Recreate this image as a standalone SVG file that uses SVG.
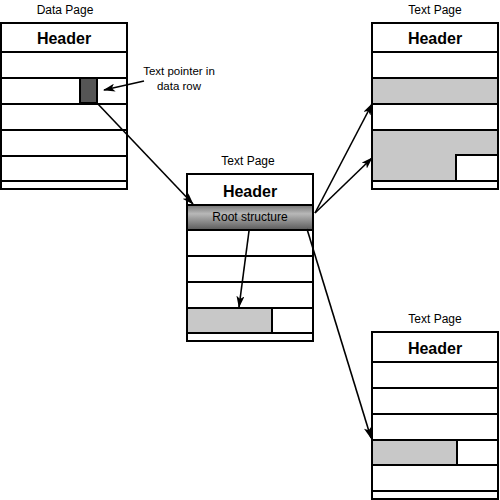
<svg xmlns="http://www.w3.org/2000/svg" width="500" height="500" viewBox="0 0 500 500">
<style>
text{font-family:"Liberation Sans",Arial,sans-serif;fill:#000}
.lbl{font-size:12px;text-anchor:middle}
.note{font-size:11.5px;text-anchor:middle}
.hdr{font-size:16px;font-weight:bold;text-anchor:middle}
.box{fill:#fff;stroke:#000;stroke-width:2}
.ln{stroke:#000;stroke-width:2;fill:none}
.gray{fill:#c8c8c8;stroke:#000;stroke-width:2}
.arr{stroke:#000;stroke-width:1.6;fill:none;marker-end:url(#ah)}
</style>
<defs>
<marker id="ah" viewBox="0 0 12 8" refX="11" refY="4" markerWidth="12" markerHeight="8" markerUnits="userSpaceOnUse" orient="auto">
<path d="M0,0 L12,4 L0,8 L3,4 Z" fill="#000"/>
</marker>
<linearGradient id="rg" x1="0" y1="0" x2="0" y2="1">
<stop offset="0" stop-color="#747474"/>
<stop offset="0.35" stop-color="#b8b8b8"/>
<stop offset="1" stop-color="#5a5a5a"/>
</linearGradient>
</defs>

<g id="data-page">
<text class="lbl" x="65" y="14">Data Page</text>
<rect class="box" x="1" y="23" width="126" height="166"/>
<text class="hdr" x="64" y="44">Header</text>
<path class="ln" d="M1,52H127M1,78H127M1,104H127M1,130H127M1,156H127M1,181H127"/>
<rect x="80" y="78" width="17" height="25" fill="#555" stroke="#000" stroke-width="2"/>
</g>

<g id="note">
<text class="note" x="179" y="75">Text pointer in</text>
<text class="note" x="179" y="90">data row</text>
</g>

<g id="text-page-mid">
<text class="lbl" x="248" y="165">Text Page</text>
<rect class="box" x="187" y="174" width="126" height="167"/>
<text class="hdr" x="250" y="197">Header</text>
<rect x="187" y="205" width="126" height="25" fill="url(#rg)" stroke="#000" stroke-width="2"/>
<text class="lbl" x="250" y="221">Root structure</text>
<path class="ln" d="M187,256H313M187,282H313M187,308H313M187,333H313"/>
<rect class="gray" x="187" y="308" width="85" height="25"/>
</g>

<g id="text-page-top">
<text class="lbl" x="435" y="14">Text Page</text>
<rect class="box" x="372" y="23" width="126" height="166"/>
<text class="hdr" x="435" y="44">Header</text>
<rect class="gray" x="372" y="78" width="126" height="26"/>
<rect class="gray" x="372" y="130" width="126" height="51"/>
<rect class="box" x="456" y="155" width="42" height="26"/>
<path class="ln" d="M372,52H498M372,181H498"/>
</g>

<g id="text-page-bottom">
<text class="lbl" x="435" y="323">Text Page</text>
<rect class="box" x="372" y="332" width="126" height="167"/>
<text class="hdr" x="435" y="354">Header</text>
<path class="ln" d="M372,362H498M372,388H498M372,414H498M372,440H498M372,465H498M372,491H498"/>
<rect class="gray" x="372" y="440" width="85" height="25"/>
</g>

<g id="connectors">
<line class="arr" x1="144" y1="81" x2="104" y2="90"/>
<line class="arr" x1="97" y1="103" x2="193" y2="204"/>
<line class="arr" x1="249" y1="231" x2="239" y2="307"/>
<line class="arr" x1="315" y1="213" x2="372" y2="104"/>
<line class="arr" x1="315" y1="213" x2="372" y2="158"/>
<line class="arr" x1="307" y1="229" x2="371" y2="438"/>
</g>
</svg>
